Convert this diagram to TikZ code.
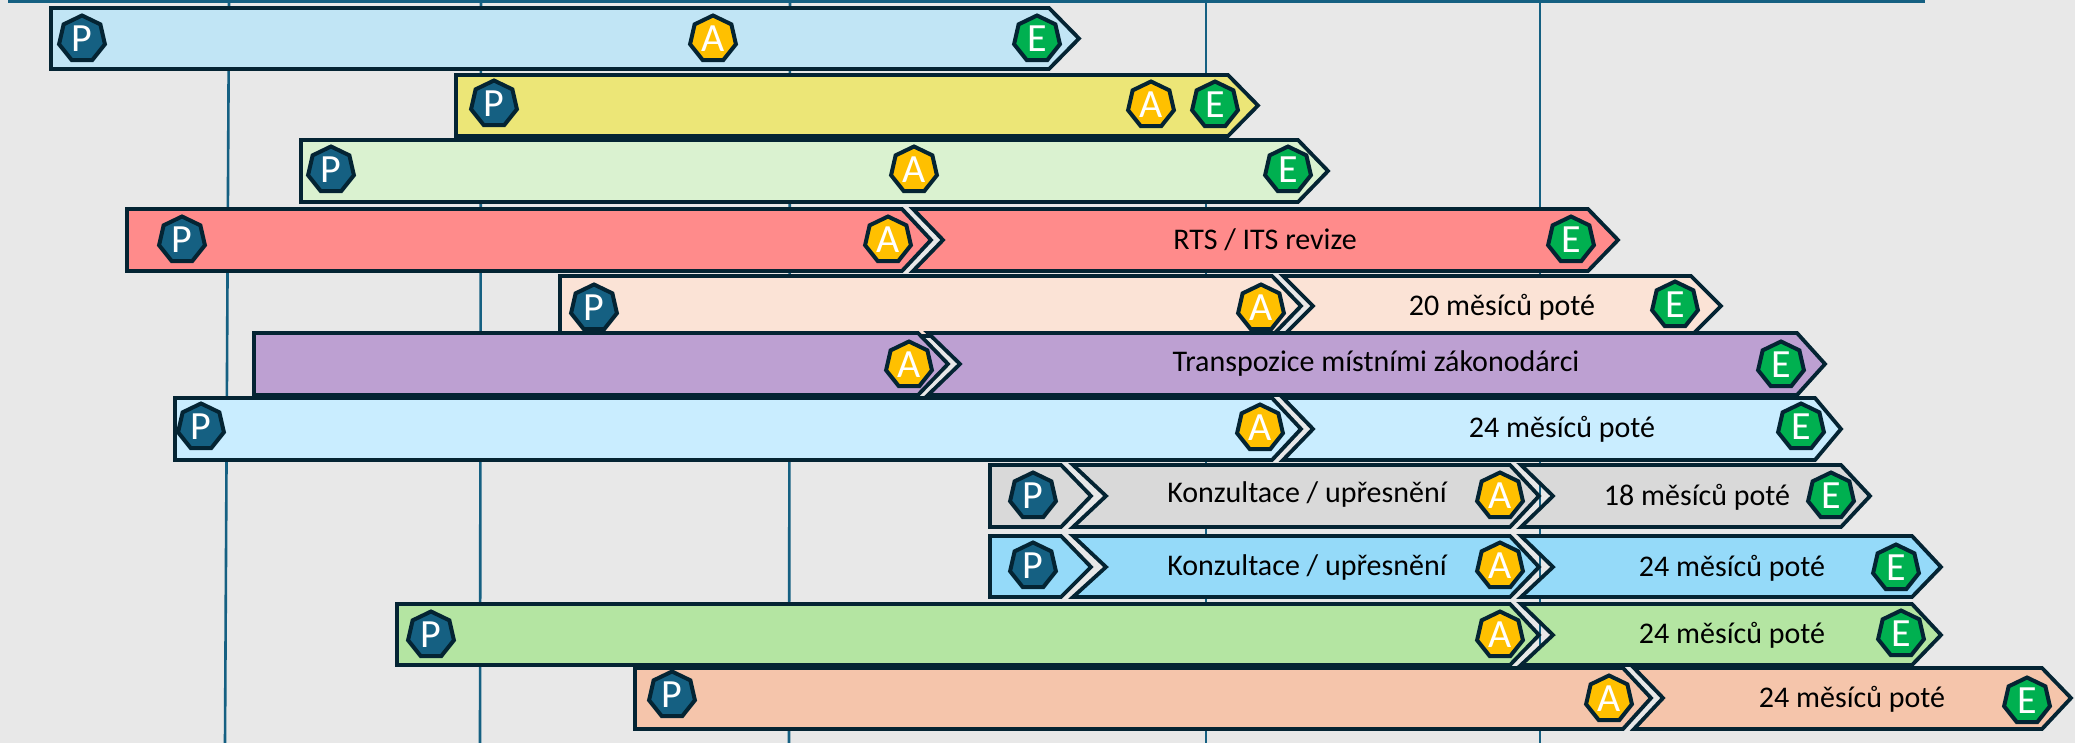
\documentclass[tikz,border=0pt]{standalone}
\usepackage{fontspec}
\setmainfont{Carlito}
\usetikzlibrary{shapes.geometric}
\definecolor{backc}{HTML}{E8E8E8}
\definecolor{darkc}{HTML}{042433}
\definecolor{axisc}{HTML}{156082}
\definecolor{amberc}{HTML}{FFC000}
\definecolor{greenc}{HTML}{00B050}
\definecolor{rowa}{HTML}{C1E5F5}
\definecolor{rowb}{HTML}{ECE677}
\definecolor{rowc}{HTML}{DAF2D0}
\definecolor{rowd}{HTML}{FF8B8B}
\definecolor{rowe}{HTML}{FBE3D6}
\definecolor{rowf}{HTML}{BDA0D2}
\definecolor{rowg}{HTML}{C9EDFF}
\definecolor{rowh}{HTML}{D9D9D9}
\definecolor{rowi}{HTML}{95DAF9}
\definecolor{rowj}{HTML}{B4E5A2}
\definecolor{rowk}{HTML}{F5C5AB}
\tikzset{
    bar/.style={draw=darkc,line width=3.8pt,line join=miter},
    axisline/.style={draw=axisc,line width=2.6pt},
    hept/.style={regular polygon,regular polygon sides=7,draw=darkc,line width=4pt,
        minimum size=47pt,inner sep=0pt,text=white,font=\fontsize{40}{40}\selectfont},
    pmark/.style={hept,fill=axisc},
    amark/.style={hept,fill=amberc},
    emark/.style={hept,fill=greenc},
    barlabel/.style={text=black,inner sep=0pt,font=\fontsize{30}{35}\selectfont},
}
\begin{document}
\begin{tikzpicture}[x=1pt,y=-1pt]
        \useasboundingbox (0,0) rectangle (2075,743);
        \fill[backc] (0,0) rectangle (2075,743);

        % Axis lines
        \draw[axisline] (8,1.5) -- (1925,1.5);
        \draw[axisline] (229,0) -- (225,743);
        \draw[axisline] (481,0) -- (480,743);
        \draw[axisline] (790,0) -- (789,743);
        \draw[axisline] (1206,0) -- (1206,743);
        \draw[axisline] (1540,0) -- (1540,743);

        %%%% Row 1 =====================================
        \draw[bar,fill=rowa] (51,8) -- (1049,8) -- (1079,38.5) -- (1049,69) -- (51,69) -- cycle;
        \node[pmark] (p1) at (82,39) {P};
        \node[amark] (a1) at (713,39) {A};
        \node[emark] (e1) at (1037,39) {E};

        %%%% Row 2 =====================================
        \draw[bar,fill=rowb] (456,75) -- (1228,75) -- (1258,105.5) -- (1228,136) -- (456,136) -- cycle;
        \node[pmark] (p2) at (494,104) {P};
        \node[amark] (a2) at (1151,105) {A};
        \node[emark] (e2) at (1215,105) {E};

        %%%% Row 3 =====================================
        \draw[bar,fill=rowc] (301,140) -- (1298,140) -- (1328,171) -- (1298,202) -- (301,202) -- cycle;
        \node[pmark] (p3) at (331,170) {P};
        \node[amark] (a3) at (914,170) {A};
        \node[emark] (e3) at (1288,170) {E};

        %%%% Row 4 =====================================
        \draw[bar,fill=rowd] (127,209) -- (902,209) -- (931,240) -- (902,271) -- (127,271) -- cycle;
        \draw[bar,fill=rowd] (913,209) -- (1588,209) -- (1618,240) -- (1588,271) -- (913,271) -- (943,240) -- cycle;
        \node[pmark] (p4) at (182,240) {P};
        \node[amark] (a4) at (888,240) {A};
        \node[emark] (e4) at (1571,240) {E};
        \node[barlabel] (t4) at (1265,240) {RTS / ITS revize};

        %%%% Row 5 =====================================
        \draw[bar,fill=rowe] (560,276) -- (1272,276) -- (1301,306) -- (1272,336) -- (560,336) -- cycle;
        \draw[bar,fill=rowe] (1283,276) -- (1691,276) -- (1721,306) -- (1691,336) -- (1283,336) -- (1313,306) -- cycle;
        \node[pmark] (p5) at (594,308) {P};
        \node[amark] (a5) at (1261,308) {A};
        \node[emark] (e5) at (1675,305) {E};
        \node[barlabel] (t5) at (1502,307) {20 měsíců poté};

        %%%% Row 6 =====================================
        \draw[bar,fill=rowf] (254,333) -- (918,333) -- (948,364) -- (918,395) -- (254,395) -- cycle;
        \draw[bar,fill=rowf] (928,333) -- (1797,333) -- (1825,364) -- (1797,395) -- (928,395) -- (960,364) -- cycle;
        \node[amark] (a6) at (909,365) {A};
        \node[emark] (e6) at (1781,365) {E};
        \node[barlabel] (t6) at (1376,364) {Transpozice místními zákonodárci};

        %%%% Row 7 =====================================
        \draw[bar,fill=rowg] (175,398) -- (1272,398) -- (1301,429) -- (1272,460) -- (175,460) -- cycle;
        \draw[bar,fill=rowg] (1283,398) -- (1815,398) -- (1841,429) -- (1815,460) -- (1283,460) -- (1313,429) -- cycle;
        \node[pmark] (p7) at (201,427) {P};
        \node[amark] (a7) at (1260,428) {A};
        \node[emark] (e7) at (1801,427) {E};
        \node[barlabel] (t7) at (1562,429) {24 měsíců poté};

        %%%% Row 8 =====================================
        \draw[bar,fill=rowh] (990,465) -- (1061,465) -- (1091,496) -- (1061,527) -- (990,527) -- cycle;
        \draw[bar,fill=rowh] (1073,465) -- (1510,465) -- (1539,496) -- (1510,527) -- (1073,527) -- (1106,496) -- cycle;
        \draw[bar,fill=rowh] (1521,465) -- (1841,465) -- (1870,496) -- (1841,527) -- (1521,527) -- (1553,496) -- cycle;
        \node[pmark] (p8) at (1033,496) {P};
        \node[amark] (a8) at (1500,496) {A};
        \node[emark] (e8) at (1831,496) {E};
        \node[barlabel] (t8a) at (1307,495) {Konzultace / upřesnění};
        \node[barlabel] (t8b) at (1697,497) {18 měsíců poté};

        %%%% Row 9 =====================================
        \draw[bar,fill=rowi] (990,536) -- (1061,536) -- (1091,567) -- (1061,597) -- (990,597) -- cycle;
        \draw[bar,fill=rowi] (1073,536) -- (1510,536) -- (1539,567) -- (1510,597) -- (1073,597) -- (1106,567) -- cycle;
        \draw[bar,fill=rowi] (1521,536) -- (1912,536) -- (1941,567) -- (1912,597) -- (1521,597) -- (1553,567) -- cycle;
        \node[pmark] (p9) at (1033,566) {P};
        \node[amark] (a9) at (1500,566) {A};
        \node[emark] (e9) at (1896,568) {E};
        \node[barlabel] (t9a) at (1307,567) {Konzultace / upřesnění};
        \node[barlabel] (t9b) at (1732,568) {24 měsíců poté};

        %%%% Row 10 ====================================
        \draw[bar,fill=rowj] (397,604) -- (1510,604) -- (1539,635) -- (1510,665) -- (397,665) -- cycle;
        \draw[bar,fill=rowj] (1521,604) -- (1912,604) -- (1941,635) -- (1912,665) -- (1521,665) -- (1553,635) -- cycle;
        \node[pmark] (p10) at (431,635) {P};
        \node[amark] (a10) at (1500,635) {A};
        \node[emark] (e10) at (1901,634) {E};
        \node[barlabel] (t10) at (1732,635) {24 měsíců poté};

        %%%% Row 11 ====================================
        \draw[bar,fill=rowk] (635,668) -- (1623,668) -- (1651,698) -- (1623,729) -- (635,729) -- cycle;
        \draw[bar,fill=rowk] (1634,668) -- (2042,668) -- (2071,698) -- (2042,729) -- (1634,729) -- (1663,698) -- cycle;
        \node[pmark] (p11) at (672,695) {P};
        \node[amark] (a11) at (1609,699) {A};
        \node[emark] (e11) at (2027,701) {E};
        \node[barlabel] (t11) at (1852,699) {24 měsíců poté};
\end{tikzpicture}
\end{document}
